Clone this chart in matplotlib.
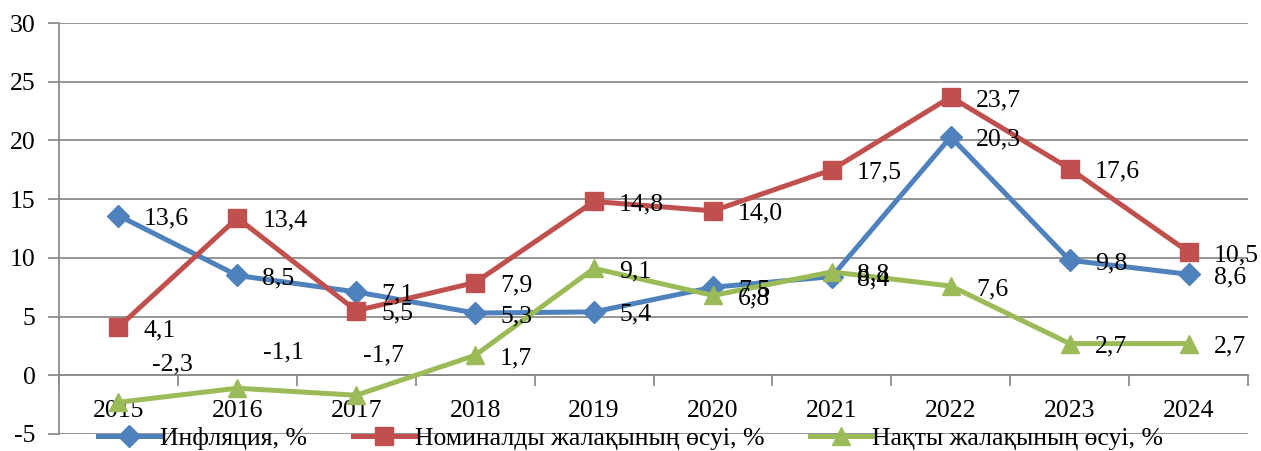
import matplotlib

matplotlib.use("Agg")
import matplotlib.pyplot as plt
import numpy as np

plt.rcParams["font.family"] = ["Liberation Serif", "DejaVu Serif"]
plt.rcParams["axes.unicode_minus"] = False

years = ["2015", "2016", "2017", "2018", "2019", "2020", "2021", "2022", "2023", "2024"]
inflation = [13.6, 8.5, 7.1, 5.3, 5.4, 7.5, 8.4, 20.3, 9.8, 8.6]
nominal_wage = [4.1, 13.4, 5.5, 7.9, 14.8, 14.0, 17.5, 23.7, 17.6, 10.5]
real_wage = [-2.3, -1.1, -1.7, 1.7, 9.1, 6.8, 8.8, 7.6, 2.7, 2.7]

series_names = ["Инфляция, %", "Номиналды жалақының өсуі, %", "Нақты жалақының өсуі, %"]

BLUE = "#4F81BD"
RED = "#C0504D"
GREEN = "#9BBB59"
GRID = "#8C8C8C"
FS = 18.5

# label offsets in pixels; the negative real-wage labels sit above the axis
DEFAULT_OFFSET = (25, -3)
REAL_OFFSETS = {0: (54, 38), 1: (46, 36), 2: (27, 40)}


def fmt(v: float) -> str:
    return f"{v:.1f}".replace(".", ",")


fig = plt.figure(figsize=(12.61, 4.51), dpi=100)
ax = fig.add_axes([59 / 1261, 17 / 451, (1248 - 59) / 1261, (434 - 23) / 451])

x = np.arange(len(years))
ax.plot(x, inflation, color=BLUE, lw=3.6, marker="D", ms=11, label=series_names[0], zorder=3)
ax.plot(x, nominal_wage, color=RED, lw=3.6, marker="s", ms=13, label=series_names[1], zorder=3)
ax.plot(x, real_wage, color=GREEN, lw=3.6, marker="^", ms=13, label=series_names[2], zorder=3)

for i, v in enumerate(inflation):
    ax.annotate(fmt(v), (x[i], v), xytext=DEFAULT_OFFSET, textcoords="offset pixels",
                ha="left", va="center", fontsize=FS, zorder=4)
for i, v in enumerate(nominal_wage):
    ax.annotate(fmt(v), (x[i], v), xytext=DEFAULT_OFFSET, textcoords="offset pixels",
                ha="left", va="center", fontsize=FS, zorder=4)
for i, v in enumerate(real_wage):
    off = REAL_OFFSETS.get(i, DEFAULT_OFFSET)
    ha = "center" if i in REAL_OFFSETS else "left"
    ax.annotate(fmt(v), (x[i], v), xytext=off, textcoords="offset pixels",
                ha=ha, va="center", fontsize=FS, zorder=4)

ax.set_xlim(-0.5, len(years) - 0.5)
ax.set_ylim(-5, 30)
ax.set_yticks(np.arange(-5, 31, 5))
ax.yaxis.grid(True, color=GRID, lw=1.3)
ax.set_axisbelow(True)
ax.tick_params(axis="y", labelsize=FS, length=8, color=GRID, width=1.3, pad=9)

ax.spines["bottom"].set_position(("data", 0))
for s in ("top", "right"):
    ax.spines[s].set_visible(False)
for s in ("left", "bottom"):
    ax.spines[s].set_color(GRID)
    ax.spines[s].set_linewidth(1.3)

ax.set_xticks(np.arange(len(years) + 1) - 0.5)
ax.set_xticklabels([])
ax.tick_params(axis="x", which="major", length=8, color=GRID, width=1.3, direction="out")
ax.set_xticks(x, minor=True)
ax.set_xticklabels(years, minor=True)
ax.tick_params(axis="x", which="minor", length=0, labelsize=FS, pad=18)

fig.legend(loc="center", bbox_to_anchor=(0.5, 13 / 451), ncol=3, frameon=False,
           fontsize=FS, handlelength=2.4, handletextpad=0.0, columnspacing=1.8,
           borderaxespad=0)

fig.savefig("out.png", dpi=100, facecolor="white")
